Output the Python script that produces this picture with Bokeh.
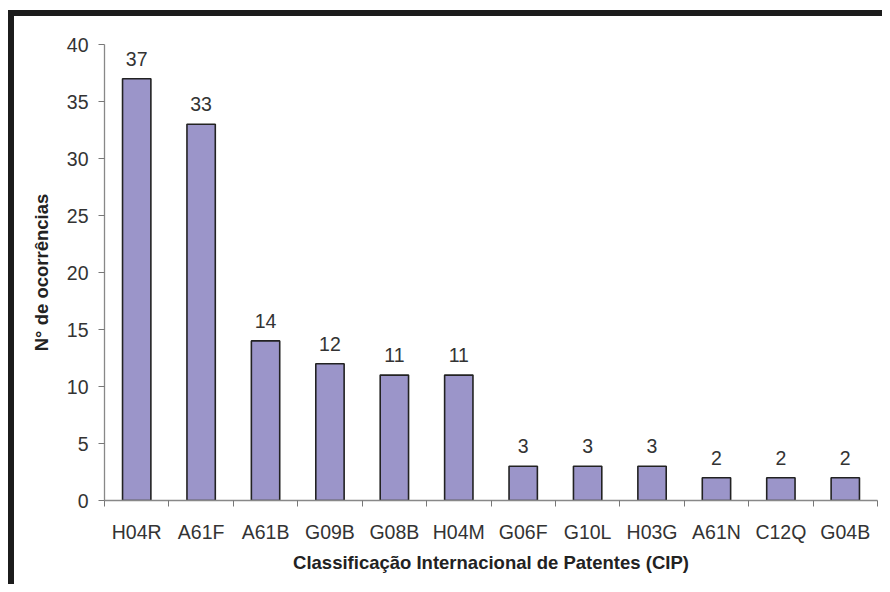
from bokeh.plotting import figure
from bokeh.models import Range1d, FixedTicker, ColumnDataSource, LabelSet
from bokeh.core.properties import value
from bokeh.embed import file_html
from bokeh.resources import INLINE

categories = ["H04R", "A61F", "A61B", "G09B", "G08B", "H04M", "G06F", "G10L", "H03G", "A61N", "C12Q", "G04B"]
values = [37, 33, 14, 12, 11, 11, 3, 3, 3, 2, 2, 2]
y_ticks = [0, 5, 10, 15, 20, 25, 30, 35, 40]

n = len(categories)
centers = [i + 0.5 for i in range(n)]
bounds = [float(i) for i in range(n + 1)]

src = ColumnDataSource(dict(x=centers, top=values, lab=[str(v) for v in values]))

FONT = "Liberation Sans"

p = figure(width=874, height=574, output_backend="svg", toolbar_location=None,
           x_range=Range1d(0, n), y_range=Range1d(0, 40))
p.styles = {"border-top": "6px solid #1c1c1c", "border-left": "6px solid #1c1c1c",
            "margin-top": "10px", "margin-left": "8px"}
p.min_border_left = 90
p.min_border_right = 11
p.min_border_top = 28
p.min_border_bottom = 90
p.outline_line_color = None
p.grid.visible = False
p.background_fill_color = "white"
p.border_fill_color = "white"

p.vbar(x="x", top="top", width=0.44, source=src, fill_color="#9b95c9",
       line_color="#222222", line_width=1.6)

labels = LabelSet(x="x", y="top", text="lab", source=src, text_align="center",
                  text_baseline="alphabetic", y_offset=13, text_font=value(FONT),
                  text_font_size=value("19.5px"), text_color=value("#333333"))
p.add_layout(labels)

xa = p.xaxis[0]
xa.ticker = FixedTicker(ticks=centers, minor_ticks=bounds)
xa.major_label_overrides = {c: lab for c, lab in zip(centers, categories)}
xa.major_tick_out = 0
xa.major_tick_in = 0
xa.minor_tick_out = 6
xa.minor_tick_in = 0
xa.minor_tick_line_color = "#777777"
xa.axis_line_color = "#888888"
xa.axis_line_width = 1.3
xa.major_label_text_font = FONT
xa.major_label_text_font_size = "19.5px"
xa.major_label_text_color = "#333333"
xa.major_label_standoff = 14
xa.axis_label = "Classificação Internacional de Patentes (CIP)"
xa.axis_label_text_font = FONT
xa.axis_label_text_font_style = "bold"
xa.axis_label_text_font_size = "18.5px"
xa.axis_label_text_color = "#222222"
xa.axis_label_standoff = 6

ya = p.yaxis[0]
ya.ticker = FixedTicker(ticks=y_ticks)
ya.minor_tick_out = 0
ya.minor_tick_in = 0
ya.major_tick_out = 6
ya.major_tick_in = 0
ya.major_tick_line_color = "#777777"
ya.axis_line_color = "#888888"
ya.axis_line_width = 1.3
ya.major_label_text_font = FONT
ya.major_label_text_font_size = "19.5px"
ya.major_label_text_color = "#333333"
ya.major_label_standoff = 10
ya.axis_label = "N° de ocorrências"
ya.axis_label_text_font = FONT
ya.axis_label_text_font_style = "bold"
ya.axis_label_text_font_size = "18.5px"
ya.axis_label_text_color = "#222222"
ya.axis_label_standoff = 12

open("out.html", "w").write(file_html(p, INLINE))
